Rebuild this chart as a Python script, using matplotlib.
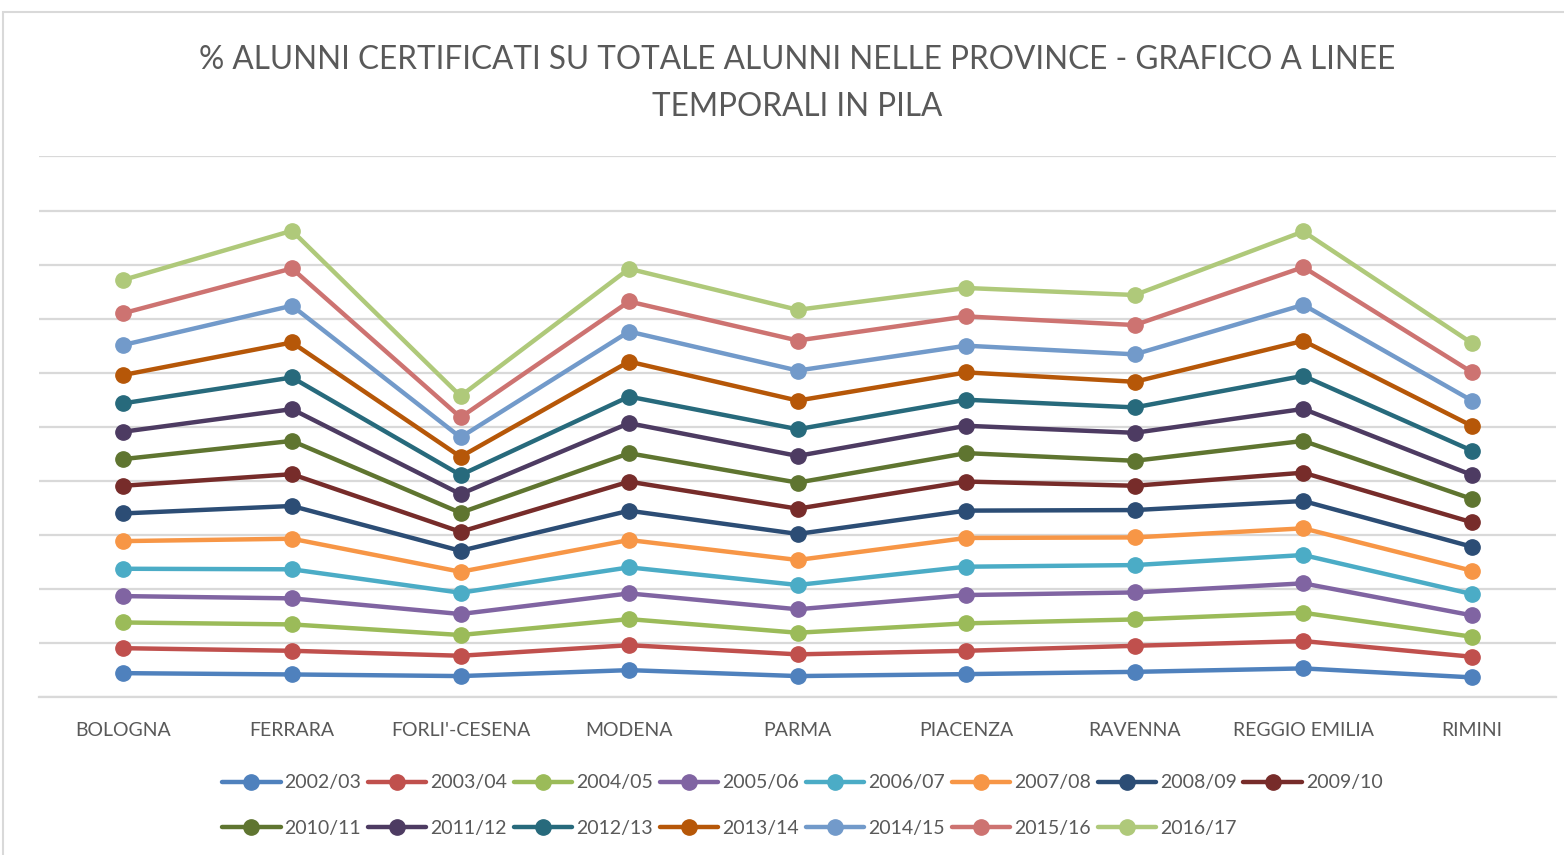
"""
Stacked line chart: % certified pupils by province, one line per school year
"""
import numpy as np
import matplotlib.pyplot as plt
from matplotlib.patches import Rectangle

provinces = ['BOLOGNA', 'FERRARA', "FORLI'-CESENA", 'MODENA', 'PARMA',
             'PIACENZA', 'RAVENNA', 'REGGIO EMILIA', 'RIMINI']

seasons = ['2002/03', '2003/04', '2004/05', '2005/06', '2006/07',
           '2007/08', '2008/09', '2009/10', '2010/11', '2011/12',
           '2012/13', '2013/14', '2014/15', '2015/16', '2016/17']

# % per year, in province order
y2002_03 = [2.19, 2.07, 1.92, 2.47, 1.92, 2.10, 2.31, 2.63, 1.80]
y2003_04 = [2.31, 2.19, 1.88, 2.31, 2.01, 2.16, 2.41, 2.53, 1.91]
y2004_05 = [2.38, 2.44, 1.92, 2.41, 2.00, 2.54, 2.44, 2.62, 1.85]
y2005_06 = [2.44, 2.41, 1.94, 2.38, 2.17, 2.62, 2.50, 2.72, 1.98]
y2006_07 = [2.53, 2.69, 1.97, 2.41, 2.25, 2.62, 2.53, 2.62, 1.97]
y2007_08 = [2.56, 2.83, 1.94, 2.53, 2.31, 2.66, 2.56, 2.47, 2.16]
y2008_09 = [2.56, 3.03, 1.94, 2.71, 2.41, 2.53, 2.53, 2.53, 2.22]
y2009_10 = [2.56, 2.94, 1.76, 2.69, 2.34, 2.69, 2.25, 2.62, 2.26]
y2010_11 = [2.47, 3.08, 1.76, 2.63, 2.41, 2.63, 2.31, 2.94, 2.16]
y2011_12 = [2.53, 2.94, 1.73, 2.78, 2.47, 2.53, 2.59, 2.96, 2.22]
y2012_13 = [2.63, 2.93, 1.76, 2.46, 2.47, 2.41, 2.35, 3.06, 2.25]
y2013_14 = [2.62, 3.24, 1.69, 3.24, 2.65, 2.53, 2.37, 3.24, 2.29]
y2014_15 = [2.78, 3.40, 1.80, 2.78, 2.78, 2.47, 2.54, 3.33, 2.34]
y2015_16 = [2.94, 3.45, 1.85, 2.78, 2.78, 2.71, 2.71, 3.49, 2.63]
y2016_17 = [3.08, 3.49, 1.97, 3.03, 2.84, 2.63, 2.78, 3.30, 2.69]

series = [y2002_03, y2003_04, y2004_05, y2005_06, y2006_07, y2007_08,
          y2008_09, y2009_10, y2010_11, y2011_12, y2012_13, y2013_14,
          y2014_15, y2015_16, y2016_17]

colors = ['#4F81BD', '#C0504D', '#9BBB59', '#8064A2', '#4BACC6', '#F79646',
          '#2C4D75', '#772C2A', '#5F7530', '#4D3B62', '#276A7C', '#B65708',
          '#729ACA', '#CD7371', '#AFC97A']

plt.rcParams['font.family'] = ['Lato', 'DejaVu Sans']
text_col = '#595959'
grid_col = '#d9d9d9'

fig = plt.figure(figsize=(15.64, 8.55), dpi=100)
ax = fig.add_axes([0.025, 0.185, 0.97, 0.632])

x = np.arange(len(provinces))
stacked = np.cumsum(np.array(series), axis=0)

lines = []
for label, vals, col in zip(seasons, stacked, colors):
    ln, = ax.plot(x, vals, color=col, lw=3.2, marker='o', markersize=11,
                  label=label, solid_capstyle='round')
    lines.append(ln)

ax.set_xlim(-0.5, len(provinces) - 0.5)
ax.set_ylim(0, 50)
ax.set_yticks(np.arange(0, 51, 5))
ax.yaxis.grid(True, color=grid_col, lw=1.6)
ax.set_axisbelow(True)
ax.tick_params(axis='y', left=False, labelleft=False)
ax.tick_params(axis='x', length=0, pad=18, labelsize=14, labelcolor=text_col)
ax.set_xticks(x)
ax.set_xticklabels(provinces)
for s in ['top', 'right', 'left']:
    ax.spines[s].set_visible(False)
ax.spines['bottom'].set_color(grid_col)
ax.spines['bottom'].set_linewidth(1.6)

fig.text(0.51, 0.947, '% ALUNNI CERTIFICATI SU TOTALE ALUNNI NELLE PROVINCE - GRAFICO A LINEE\nTEMPORALI IN PILA',
         ha='center', va='top', fontsize=22.7, color=text_col, linespacing=1.68)

# legend filled row by row (8 per row), like the original
order = []
for j in range(8):
    order.append(j)
    if j + 8 < len(lines):
        order.append(j + 8)
fig.legend([lines[i] for i in order], [seasons[i] for i in order],
           loc='center', bbox_to_anchor=(0.513, 0.058), ncol=8, frameon=False,
           fontsize=14, handlelength=3.0, handletextpad=0.2, columnspacing=0.35,
           labelspacing=1.45, labelcolor=text_col)

# light chart frame like the office chart area
fig.patches.append(Rectangle((0.002, -0.01), 1.05, 0.996, transform=fig.transFigure,
                             fill=False, edgecolor=grid_col, lw=1.5))

plt.savefig('out.png', dpi=100)
plt.close()
